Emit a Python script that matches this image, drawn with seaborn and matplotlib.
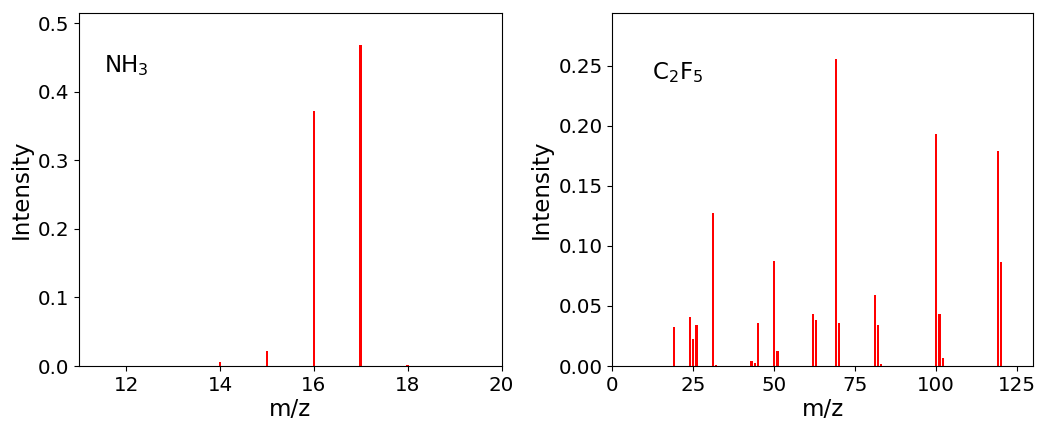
import matplotlib
matplotlib.use("Agg")
import matplotlib.pyplot as plt
import seaborn as sns
import pandas as pd

# NH3 spectrum
nh3_mz = [14, 15, 16, 17, 18]
nh3_int = [0.0063, 0.0224, 0.3727, 0.4690, 0.0015]

# C2F5 spectrum
c2f5_mz = [19, 24, 25, 26, 31, 32, 43, 44, 45, 50, 51, 62, 63, 69, 70,
           81, 82, 83, 100, 101, 102, 119, 120]
c2f5_int = [0.0325, 0.0411, 0.0222, 0.0341, 0.1274, 0.0005, 0.0042, 0.0025,
            0.0355, 0.0874, 0.0125, 0.0436, 0.0380, 0.2556, 0.0355, 0.0591,
            0.0341, 0.0014, 0.1934, 0.0436, 0.0064, 0.1793, 0.0866]

fig = plt.figure(figsize=(10.38, 4.21), dpi=100)
ax1 = fig.add_axes([0.0764, 0.1306, 0.4069, 0.8392])
ax2 = fig.add_axes([0.5899, 0.1306, 0.4056, 0.8392])

df1 = pd.DataFrame({"mz": nh3_mz, "I": nh3_int})
df2 = pd.DataFrame({"mz": c2f5_mz, "I": c2f5_int})

sns.barplot(data=df1, x="mz", y="I", native_scale=True, width=0.06,
            color="red", saturation=1, errorbar=None, ax=ax1)
sns.barplot(data=df2, x="mz", y="I", native_scale=True, width=0.7,
            color="red", saturation=1, errorbar=None, ax=ax2)

ax1.set_xlim(11, 20)
ax1.set_ylim(0, 0.5155)
ax1.set_xticks([12, 14, 16, 18, 20])
ax1.set_xticklabels(["12", "14", "16", "18", "20"])
ax1.set_yticks([0.0, 0.1, 0.2, 0.3, 0.4, 0.5])
ax1.set_yticklabels(["0.0", "0.1", "0.2", "0.3", "0.4", "0.5"])

ax2.set_xlim(0, 130)
ax2.set_ylim(0, 0.294)
ax2.set_xticks([0, 25, 50, 75, 100, 125])
ax2.set_xticklabels(["0", "25", "50", "75", "100", "125"])
ax2.set_yticks([0.0, 0.05, 0.10, 0.15, 0.20, 0.25])
ax2.set_yticklabels(["0.00", "0.05", "0.10", "0.15", "0.20", "0.25"])

for ax in (ax1, ax2):
    ax.set_xlabel("m/z", fontsize=16.5, labelpad=2.5)
    ax.set_ylabel("Intensity", fontsize=16.5)
    ax.tick_params(labelsize=14.3)

ax1.text(0.058, 0.833, "NH$_3$", transform=ax1.transAxes, fontsize=16.5,
         ha="left", va="baseline")
ax2.text(0.094, 0.811, "C$_2$F$_5$", transform=ax2.transAxes, fontsize=16.5,
         ha="left", va="baseline")

fig.savefig("out.png", dpi=100)
